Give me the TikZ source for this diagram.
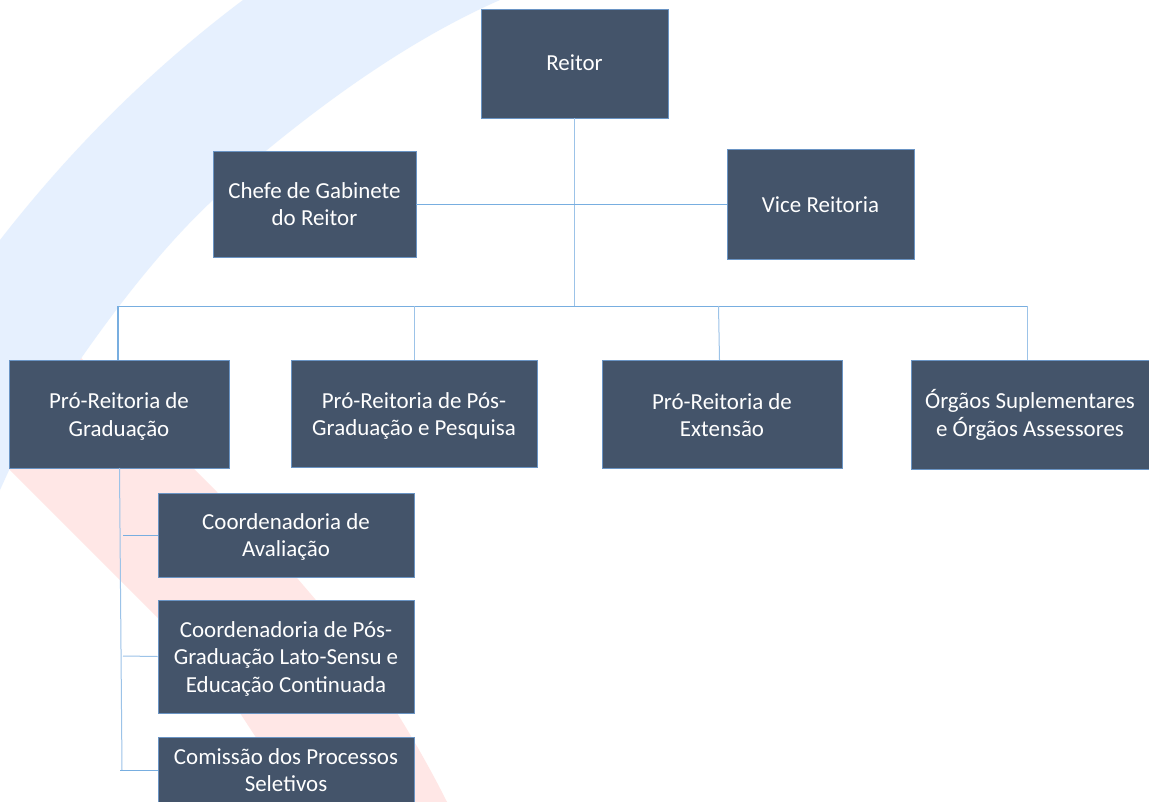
\documentclass[tikz,border=0pt]{standalone}
\usepackage{fontspec}
\setmainfont{Carlito}
\definecolor{boxfill}{HTML}{44546A}
\definecolor{boxline}{HTML}{6A94C4}
\definecolor{wire}{HTML}{78AEE0}
\definecolor{wirepale}{HTML}{9CC3E8}
\definecolor{bandblue}{HTML}{E6F0FE}
\definecolor{bandred}{HTML}{FFE7E6}
\newcommand\txtdrop[1]{\rule{0pt}{#1pt}}
\tikzset{
  orgbox/.style={draw=boxline,line width=0.7pt,fill=boxfill,text=white,align=center,inner sep=0pt,
    font=\fontsize{17.2pt}{20.6pt}\selectfont},
  wireline/.style={draw=wire,line width=0.75pt},
  paleline/.style={draw=wirepale,line width=0.75pt},
}
\begin{document}
\begin{tikzpicture}[x=0.75pt,y=-0.75pt]
\useasboundingbox (0,0) rectangle (1149,802);
\begin{scope}
\clip (0,0) rectangle (1149,802);
\fill[white] (0,0) rectangle (1149,802);
% red band
\fill[bandred] (80,357) -- (193,468) -- (217,492) .. controls (250,525) and (280,558) .. (297,578)
  -- (315,599) .. controls (345,635) and (372,672) .. (397,713) .. controls (415,742) and (432,772) .. (447,802)
  -- (305,802) -- (255,736) -- (240,713) .. controls (215,680) and (185,650) .. (157,617)
  -- (120,580) -- (10,470) -- (0,460) -- cycle;
% blue band
\fill[bandblue] (0,240) .. controls (70,150) and (150,70) .. (243,0) -- (500,0)
  .. controls (420,35) and (340,90) .. (267,150) .. controls (245,168) and (228,184) .. (213,200)
  .. controls (165,245) and (122,300) .. (82,357) -- (10,468) -- (0,490) -- cycle;
\end{scope}
% boxes
\node[orgbox,minimum width=140.25pt,minimum height=81.75pt] (reitor) at (574.5,63.5) {Reitor\rule[-2pt]{0pt}{2pt}};
\node[orgbox,minimum width=152.25pt,minimum height=79.5pt] (chefe) at (314.5,204) {Chefe de Gabinete\\do Reitor};
\node[orgbox,minimum width=140.25pt,minimum height=82.5pt] (vice) at (820.5,204) {\txtdrop{13.5}Vice Reitoria};
\node[orgbox,minimum width=165pt,minimum height=81pt] (grad) at (119,414) {\txtdrop{15.5}Pró-Reitoria de\\Graduação};
\node[orgbox,minimum width=184.5pt,minimum height=80.25pt] (pos) at (414,413.5) {\txtdrop{15.8}Pró-Reitoria de Pós-\\Graduação e Pesquisa};
\node[orgbox,minimum width=180pt,minimum height=81pt] (ext) at (722,414) {\txtdrop{13.8}Pró-Reitoria de\\Extensão};
\node[orgbox,minimum width=178.5pt,minimum height=81.75pt] (orgaos) at (1030,414.5) {\txtdrop{14.8}Órgãos Suplementares\\e Órgãos Assessores};
\node[orgbox,minimum width=192pt,minimum height=63pt] (aval) at (286,535) {\txtdrop{15}Coordenadoria de\\Avaliação};
\node[orgbox,minimum width=192pt,minimum height=84.75pt] (lato) at (286,656.5) {\txtdrop{15}Coordenadoria de Pós-\\Graduação Lato-Sensu e\\Educação Continuada};
\node[orgbox,minimum width=192pt,minimum height=49.5pt] (comissao) at (286,770) {Comissão dos Processos\\Seletivos};
% free ends of the connectors
\coordinate (trunk) at (574.5,306);
\coordinate (cross) at (574.5,205);
\coordinate (busleft) at (118,306);
\coordinate (busright) at (1027.5,306);
\coordinate (dropext) at (718.5,306);
\coordinate (extin) at (719.5,360);
\coordinate (gradout) at (119.5,468);
\coordinate (sidetop) at (123,535);
\coordinate (sidemid) at (123,656);
\coordinate (sideend) at (122,770);
\coordinate (sidefoot) at (120,770);
% connectors
\draw[paleline] (reitor.south) -- (trunk);
\draw[wireline] (chefe.east |- cross) -- (vice.west |- cross);
\draw[wireline] (busleft) -- (busright);
\draw[wireline,line width=1.1pt] (busleft) -- (busleft |- grad.north);
\draw[paleline] (pos.north) -- (pos.north |- trunk);
\draw[paleline] (dropext) -- (extin);
\draw[paleline] (busright) -- (busright |- orgaos.north);
\draw[paleline] (gradout) -- (sideend);
\draw[wireline] (sidetop) -- (aval.west);
\draw[paleline] (sidemid) -- (lato.west);
\draw[wireline] (sidefoot) -- (sidefoot -| comissao.west);
\end{tikzpicture}
\end{document}
